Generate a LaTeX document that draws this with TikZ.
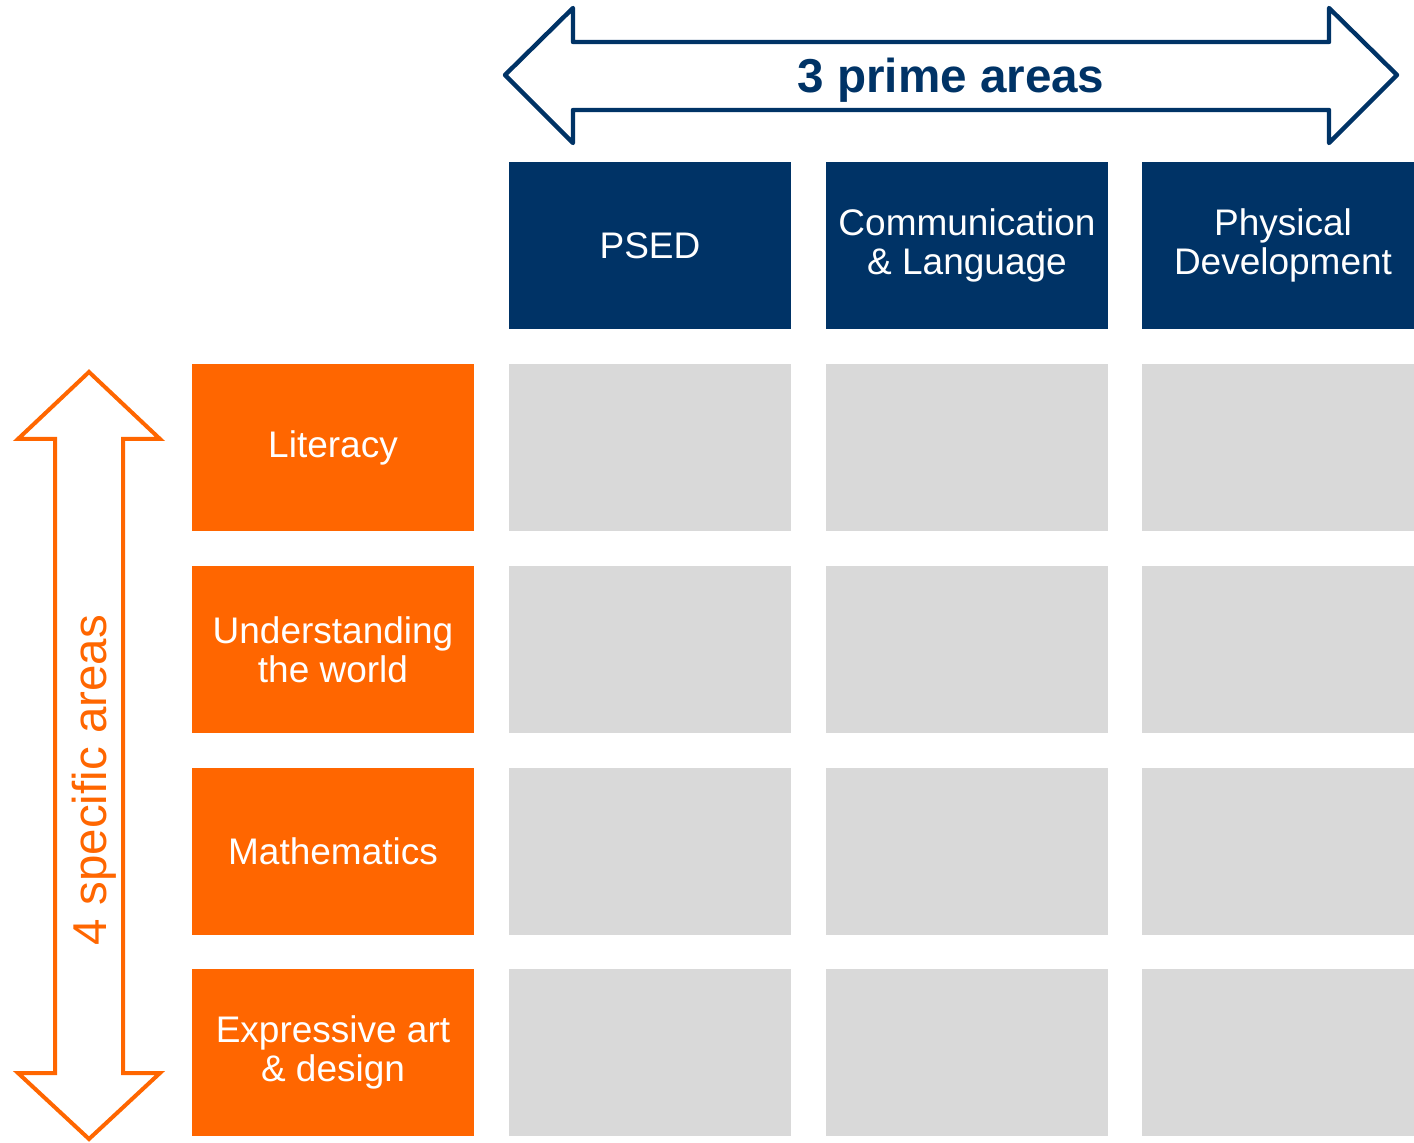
\documentclass[tikz,border=0pt]{standalone}
\usepackage{fontspec}
\setmainfont{Liberation Sans}
\definecolor{navy}{RGB}{0,51,102}
\definecolor{areaorange}{RGB}{255,102,0}
\definecolor{cellgrey}{RGB}{217,217,217}

\tikzset{
  primebox/.style={fill=navy, text=white, minimum width=141pt, minimum height=83.5pt,
    inner sep=0pt, align=center, font=\fontsize{18.5}{19.5}\selectfont},
  specificbox/.style={primebox, fill=areaorange},
  cellbox/.style={fill=cellgrey, minimum width=141pt, minimum height=83.5pt, inner sep=0pt},
}

\begin{document}
\begin{tikzpicture}[x=0.5pt,y=-0.5pt]
\clip (0,0) rectangle (1414,1143);

% prime areas arrow
\draw[navy, line width=2.2pt, line join=round] (505,75) -- (573,8) -- (573,42) -- (1329,42)
  -- (1329,8) -- (1397,75) -- (1329,143) -- (1329,110) -- (573,110) -- (573,143) -- cycle;
\node[text=navy, font=\fontsize{23.8}{26}\selectfont\bfseries] (prime) at (951,80) {3 prime areas};

% specific areas arrow
\draw[areaorange, line width=2pt] (89,372) -- (160,439) -- (123,439) -- (123,1073)
  -- (160,1073) -- (89,1139) -- (18,1073) -- (55,1073) -- (55,439) -- (18,439) -- cycle;
\node[text=areaorange, rotate=90, font=\fontsize{23.75}{26}\selectfont] (specific) at (94,780) {4 specific areas};

% prime areas
\foreach \name/\x/\txt in {psed/650/PSED, comm/967/{Communication\\\& Language},
    phys/1283/{Physical\\Development}} {
  \node[primebox] (\name) at (\x,245.5) {\txt};
}

% specific areas
\foreach \name/\y/\txt in {lit/447.5/Literacy, utw/649.5/{Understanding\\the world},
    maths/851.5/Mathematics, ead/1052.5/{Expressive art\\\& design}} {
  \node[specificbox] (\name) at (333,\y) {\txt};
}

% empty cells
\foreach \r/\y in {1/447.5,2/649.5,3/851.5,4/1052.5} {
  \foreach \c/\x in {1/650,2/967,3/1283} {
    \node[cellbox] (cell-\r-\c) at (\x,\y) {};
  }
}

\end{tikzpicture}
\end{document}
